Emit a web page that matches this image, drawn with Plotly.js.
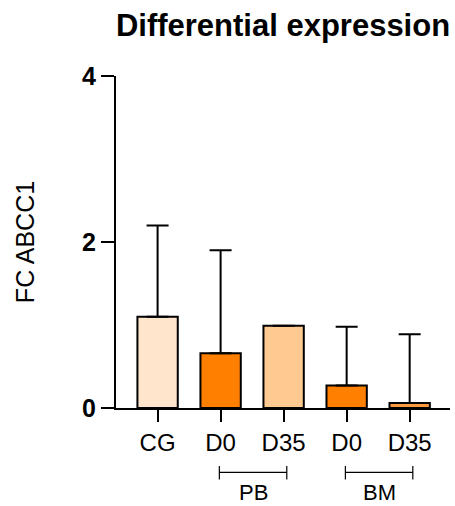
<!DOCTYPE html>
<html>
<head>
<meta charset="utf-8">
<script src="https://cdn.plot.ly/plotly-3.0.1.min.js"></script>
<style>html,body{margin:0;padding:0;background:#fff;}#chart{width:455px;height:506px;}</style>
</head>
<body>
<div id="chart"></div>
<script>
// ---- data ----
const tickLabels = ["CG", "D0", "D35", "D0", "D35"];
const meanValues = [1.10, 0.66, 0.99, 0.27, 0.06];
const errorUpper = [1.10, 1.24, null, 0.71, 0.83];
const barColors = ["#FFE5CC", "#FF7F00", "#FFCA91", "#FF7F00", "#FC9A3D"];
const groupNames = ["PB", "BM"];
const groupStart = [1, 3];
const groupEnd = [2, 4];
const yTicks = [0, 2, 4];

const xs = tickLabels.map((_, i) => i);
const FONT = "Liberation Sans, Arial, sans-serif";

const trace = {
  type: "bar",
  x: xs,
  y: meanValues,
  width: 0.64,
  marker: { color: barColors, line: { color: "#000", width: 2 } },
  error_y: {
    type: "data",
    symmetric: false,
    array: errorUpper,
    arrayminus: meanValues.map(() => 0),
    color: "#000",
    thickness: 2,
    width: 11
  },
  hoverinfo: "none"
};

const shapes = [];
const annotations = [];
groupNames.forEach((g, k) => {
  const x0 = groupStart[k] - 0.02, x1 = groupEnd[k] + 0.05;
  shapes.push({ type: "line", xref: "x", yref: "paper", x0: x0, x1: x1, y0: -0.194, y1: -0.194, line: { color: "#000", width: 1.2 } });
  shapes.push({ type: "line", xref: "x", yref: "paper", x0: x0, x1: x0, y0: -0.175, y1: -0.215, line: { color: "#000", width: 1.2 } });
  shapes.push({ type: "line", xref: "x", yref: "paper", x0: x1, x1: x1, y0: -0.175, y1: -0.215, line: { color: "#000", width: 1.2 } });
  annotations.push({ xref: "x", yref: "paper", x: (x0 + x1) / 2, y: -0.254, text: g, showarrow: false, xanchor: "center", yanchor: "middle", borderpad: 0, font: { family: FONT, size: 22, color: "#000" } });
});

const layout = {
  width: 455, height: 506,
  margin: { l: 116, r: 5, t: 76, b: 98 },
  paper_bgcolor: "#fff", plot_bgcolor: "#fff",
  showlegend: false,
  title: { text: "<b>Differential expression</b>", x: 0.5, xref: "paper", y: 0.951, yanchor: "middle", font: { family: FONT, size: 31, color: "#000" } },
  xaxis: {
    range: [-0.66, 4.64],
    tickvals: xs, ticktext: tickLabels,
    ticks: "outside", ticklen: 12, tickwidth: 2, tickcolor: "#000",
    showline: true, linecolor: "#000", linewidth: 2,
    showgrid: false, zeroline: false,
    tickfont: { family: FONT, size: 24, color: "#000" },
    fixedrange: true
  },
  yaxis: {
    range: [0, 4],
    tickvals: yTicks, ticktext: yTicks.map(v => "<b>" + v + "</b>"),
    ticks: "outside", ticklen: 13, tickwidth: 2, tickcolor: "#000",
    showline: true, linecolor: "#000", linewidth: 2,
    showgrid: false, zeroline: false,
    tickfont: { family: FONT, size: 25, color: "#000" },
    title: { text: "FC ABCC1", font: { family: FONT, size: 25, color: "#000" }, standoff: 40 },
    fixedrange: true
  },
  shapes: shapes,
  annotations: annotations
};

Plotly.newPlot("chart", [trace], layout, { displayModeBar: false, staticPlot: true });
</script>
</body>
</html>
